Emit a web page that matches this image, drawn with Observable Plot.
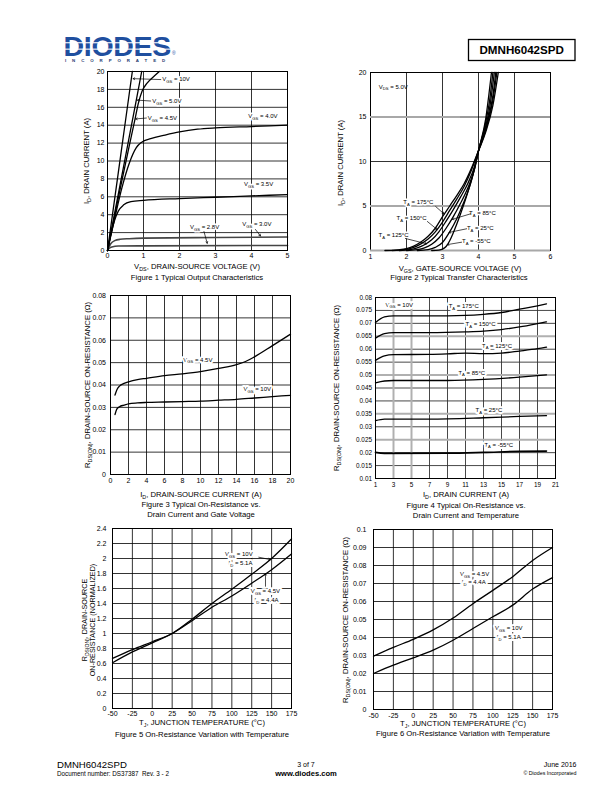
<!DOCTYPE html>
<html><head><meta charset="utf-8">
<script src="https://cdn.jsdelivr.net/npm/d3@7"></script>
<script src="https://cdn.jsdelivr.net/npm/@observablehq/plot@0.6"></script>
<style>
html,body{margin:0;padding:0;background:#fff;}
#page{position:relative;width:612px;height:792px;overflow:hidden;background:#fff;}
</style></head><body><div id="page"></div>
<script>
// ---------- Figure 1: Typical Output Characteristics ----------
const fig1_xTicks = [0,1,2,3,4,5];
const fig1_yTicks = [0,2,4,6,8,10,12,14,16,18,20];
const fig1_vgs10 = [[0,0],[0.2,5.8],[0.4,11.6],[0.6,17.4],[0.69,20]];
const fig1_vgs50 = [[0,0],[0.2,4.2],[0.4,8.4],[0.6,12.6],[0.8,16.8],[0.95,20]];
const fig1_vgs45 = [[0,0],[0.2,3.9],[0.4,7.8],[0.6,11.6],[0.76,14.6],[0.86,16.5],[0.96,17.8],[1.1,18.7],[1.3,19.5],[1.44,20]];
const fig1_vgs40 = [[0,0],[0.2,3.6],[0.4,7.0],[0.6,9.7],[0.8,11.5],[0.95,12.1],[1.2,12.5],[1.6,12.9],[2,13.25],[2.5,13.55],[3,13.7],[4,13.85],[5,14.0]];
const fig1_vgs35 = [[0,0],[0.1,1.9],[0.2,3.4],[0.3,4.4],[0.45,5.1],[0.65,5.45],[1,5.6],[2,5.8],[3,5.95],[4,6.1],[5,6.25]];
const fig1_vgs30 = [[0,0],[0.1,0.8],[0.2,1.1],[0.35,1.25],[0.6,1.32],[1,1.38],[3,1.45],[5,1.5]];
const fig1_vgs28 = [[0,0],[0.05,0.25],[0.12,0.4],[0.3,0.5],[1,0.52],[5,0.56]];
const fig1_labels = [
  {x:1.52,y:19.1,t:"V_{GS} = 10V"},{x:1.24,y:16.7,t:"V_{GS} = 5.0V"},{x:1.12,y:14.8,t:"V_{GS} = 4.5V"},
  {x:3.91,y:15.0,t:"V_{GS} = 4.0V"},{x:3.79,y:7.4,t:"V_{GS} = 3.5V"},{x:2.29,y:2.6,t:"V_{GS} = 2.8V"},{x:3.74,y:2.9,t:"V_{GS} = 3.0V"}];
const fig1_arrows = [
  {x1:1.48,y1:19.1,x2:0.71,y2:19.2},{x1:1.2,y1:16.7,x2:0.83,y2:16.8},{x1:1.08,y1:14.8,x2:0.78,y2:14.7},
  {x1:2.68,y1:2.12,x2:2.77,y2:0.8},{x1:4.11,y1:2.35,x2:4.25,y2:1.62}];

// ---------- Figure 2: Typical Transfer Characteristics ----------
const fig2_xTicks = [1,2,3,4,5,6];
const fig2_yTicks = [0,5,10,15,20];
const fig2_t175 = [[1.4,0],[1.8,0.08],[2.0,0.2],[2.2,0.5],[2.4,0.95],[2.6,1.6],[2.8,2.5],[3.0,3.8],[3.2,5.0],[3.4,6.2],[3.6,7.5],[3.8,9.2],[4.0,11.2],[4.2,13.3],[4.4,16.3],[4.55,20]];
const fig2_t150 = [[1.6,0],[2.0,0.12],[2.2,0.35],[2.4,0.75],[2.6,1.3],[2.8,2.1],[3.0,3.2],[3.2,4.5],[3.4,5.8],[3.6,7.2],[3.8,9.0],[4.0,11.2],[4.2,13.5],[4.4,16.9],[4.51,20]];
const fig2_t125 = [[1.8,0],[2.1,0.1],[2.3,0.3],[2.5,0.65],[2.7,1.2],[2.9,2.1],[3.1,3.3],[3.3,4.6],[3.5,6.0],[3.7,7.5],[3.9,9.6],[4.0,11.2],[4.2,13.7],[4.4,17.4],[4.48,20]];
const fig2_t85 = [[2.0,0],[2.3,0.1],[2.5,0.3],[2.7,0.7],[2.9,1.4],[3.1,2.5],[3.3,3.8],[3.5,5.3],[3.7,7.0],[3.9,9.3],[4.0,11.2],[4.2,14.0],[4.3,15.8],[4.44,20]];
const fig2_t25 = [[2.3,0],[2.6,0.1],[2.8,0.35],[3.0,0.9],[3.2,2.1],[3.4,3.6],[3.6,5.5],[3.8,7.8],[4.0,11.2],[4.2,14.4],[4.3,16.6],[4.4,20]];
const fig2_tm55 = [[2.7,0],[2.9,0.05],[3.0,0.15],[3.1,0.45],[3.2,1.1],[3.3,2.0],[3.5,4.1],[3.7,6.5],[3.9,9.4],[4.0,11.2],[4.2,14.8],[4.36,20]];
const fig2_labels = [
  {x:2.33,y:5.43,t:"T_{A} = 175°C"},{x:2.14,y:3.67,t:"T_{A} = 150°C"},{x:1.64,y:1.69,t:"T_{A} = 125°C"},
  {x:4.11,y:4.19,t:"T_{A} = 85°C"},{x:4.05,y:2.55,t:"T_{A} = 25°C"},{x:3.94,y:1.04,t:"T_{A} = -55°C"}];
const fig2_note = [{x:1.23,y:18.4,t:"V_{DS} = 5.0V"}];
const fig2_arrows = [
  {x1:2.81,y1:4.94,x2:3.04,y2:4.12},{x1:2.58,y1:3.26,x2:2.85,y2:2.36},{x1:1.97,y1:1.35,x2:2.56,y2:0.75},
  {x1:3.78,y1:4.12,x2:3.27,y2:3.5},{x1:3.67,y1:2.44,x2:3.18,y2:2.03},{x1:3.53,y1:0.93,x2:3.13,y2:0.66}];

// ---------- Figure 3: On-Resistance vs Drain Current and Gate Voltage ----------
const fig3_xTicks = [0,2,4,6,8,10,12,14,16,18,20];
const fig3_yTicks = [0,0.01,0.02,0.03,0.04,0.05,0.06,0.07,0.08];
const fig3_vgs45 = [[0.5,0.0355],[0.7,0.0378],[1,0.0395],[1.5,0.0407],[2,0.0414],[3,0.0424],[4,0.043],[6,0.0442],[8,0.045],[10,0.046],[12,0.0474],[14,0.0491],[15,0.0505],[16,0.0526],[18,0.0576],[20,0.0627]];
const fig3_vgs10 = [[0.5,0.0268],[0.7,0.0292],[1,0.0303],[1.5,0.031],[2,0.0316],[3,0.032],[4,0.0322],[6,0.0324],[8,0.0326],[10,0.0328],[12,0.0332],[14,0.0336],[16,0.0342],[18,0.0348],[20,0.0354]];
const fig3_labels = [{x:9.7,y:0.0513,t:"V_{GS} = 4.5V"},{x:16.3,y:0.0383,t:"V_{GS} = 10V"}];

// ---------- Figure 4: On-Resistance vs Drain Current and Temperature ----------
const fig4_xTicks = [1,3,5,7,9,11,13,15,17,19,21];
const fig4_yTicks = [0.01,0.015,0.02,0.025,0.03,0.035,0.04,0.045,0.05,0.055,0.06,0.065,0.07,0.075,0.08];
const fig4_t175 = [[1,0.0703],[2,0.0725],[3,0.0729],[7,0.0729],[11,0.0731],[13,0.0735],[15,0.0742],[17,0.0755],[19,0.0768],[20,0.0775]];
const fig4_t150 = [[1,0.0643],[2,0.066],[3,0.0664],[7,0.0664],[11,0.0667],[13,0.067],[15,0.0676],[17,0.0686],[19,0.0699],[20,0.0706]];
const fig4_t125 = [[1,0.0557],[2,0.0574],[3,0.0579],[7,0.058],[9,0.0582],[11,0.0585],[13,0.0583],[15,0.0585],[17,0.0593],[19,0.0602],[20,0.0608]];
const fig4_t85 = [[1,0.047],[2,0.0477],[3,0.0479],[9,0.0479],[13,0.0483],[17,0.0492],[20,0.0501]];
const fig4_t25 = [[1,0.0324],[2,0.033],[7,0.033],[13,0.0335],[17,0.034],[20,0.0343]];
const fig4_tm55 = [[1,0.0201],[2,0.0197],[9,0.0198],[13,0.0201],[17,0.0205],[20,0.0206]];
const fig4_labels = [
  {x:10.8,y:0.0766,t:"T_{A} = 175°C"},{x:12.67,y:0.0696,t:"T_{A} = 150°C"},{x:14.5,y:0.0614,t:"T_{A} = 125°C"},
  {x:11.7,y:0.0509,t:"T_{A} = 85°C"},{x:13.6,y:0.0363,t:"T_{A} = 25°C"},{x:14.7,y:0.0231,t:"T_{A} = -55°C"}];
const fig4_note = [{x:2.1,y:0.0772,t:"V_{GS} = 10V"}];
const fig4_grayY = [0.025,0.035,0.05,0.065];
const fig4_grayX = [3,5];

// ---------- Figure 5: Normalized On-Resistance vs Temperature ----------
const fig5_xTicks = [-50,-25,0,25,50,75,100,125,150,175];
const fig5_yTicks = [0,0.2,0.4,0.6,0.8,1,1.2,1.4,1.6,1.8,2,2.2,2.4];
const fig5_vgs10 = [[-50,0.61],[-25,0.755],[0,0.875],[25,1.0],[50,1.19],[75,1.4],[100,1.59],[125,1.79],[150,2.0],[175,2.26]];
const fig5_vgs45 = [[-50,0.667],[-25,0.785],[0,0.89],[25,1.0],[50,1.17],[75,1.35],[100,1.5],[125,1.67],[150,1.85],[175,2.06]];
const fig5_labels = [{x:108.8,y:2.06,t:"V_{GS} = 10V"},{x:110.9,y:1.94,t:"I_{D} = 5.1A"},{x:142.3,y:1.56,t:"V_{GS} = 4.5V"},{x:143.6,y:1.44,t:"I_{D} = 4.4A"}];
const fig5_arrows = [{x1:133.9,y1:2.017,x2:148.5,y2:1.985},{x1:142.3,y1:1.63,x2:142.3,y2:1.80}];

// ---------- Figure 6: On-Resistance vs Temperature ----------
const fig6_xTicks = [-50,-25,0,25,50,75,100,125,150,175];
const fig6_yTicks = [0,0.01,0.02,0.03,0.04,0.05,0.06,0.07,0.08,0.09,0.1];
const fig6_vgs45 = [[-50,0.0296],[-25,0.0345],[0,0.039],[25,0.0442],[50,0.0508],[75,0.0588],[100,0.0662],[125,0.0738],[150,0.0828],[175,0.09]];
const fig6_vgs10 = [[-50,0.02],[-25,0.0246],[0,0.0287],[25,0.033],[50,0.0385],[75,0.045],[100,0.0515],[125,0.058],[150,0.0669],[175,0.0733]];
const fig6_labels = [{x:77,y:0.0754,t:"V_{GS} = 4.5V"},{x:76,y:0.0706,t:"I_{D} = 4.4A"},{x:120,y:0.0452,t:"V_{GS} = 10V"},{x:120,y:0.0402,t:"I_{D} = 5.1A"}];

// ---------- rendering ----------
const FONT = '"Liberation Sans", Arial, Helvetica, sans-serif';
const page = document.getElementById("page");
const K = "#000";

function makeChart({fx, fy, fw, fh, xDomain, yDomain, xTicks, yTicks, xPad, yPad, tickSize, marks}) {
  const mL = 36, mR = 14, mT = 8, mB = 16;
  const svg = Plot.plot({
    width: fw + mL + mR, height: fh + mT + mB,
    marginLeft: mL, marginRight: mR, marginTop: mT, marginBottom: mB,
    x: {domain: xDomain, ticks: xTicks, tickSize: 0, tickPadding: xPad, tickFormat: d => String(d), label: null},
    y: {domain: yDomain, ticks: yTicks, tickSize: 0, tickPadding: yPad, tickFormat: d => String(d), label: null},
    style: {background: "transparent", fontFamily: FONT, fontSize: tickSize + "px", color: "#000", overflow: "visible"},
    marks
  });
  svg.style.position = "absolute";
  svg.style.left = (fx - mL) + "px";
  svg.style.top = (fy - mT) + "px";
  page.appendChild(svg);
  return svg;
}
const grid = (ticks, dim, opts = {}) => dim === "x"
  ? Plot.ruleX(ticks, {stroke: K, strokeWidth: 0.8, ...opts})
  : Plot.ruleY(ticks, {stroke: K, strokeWidth: 0.8, ...opts});
const curve = (data, opts = {}) => Plot.line(data, {stroke: K, strokeWidth: 1.3, curve: "monotone-x", ...opts});
const labels = (data, opts = {}) => Plot.text(data, {x: "x", y: "y", text: "t", fontSize: 6, fill: K, stroke: "#fff", strokeWidth: 3, ...opts});
const arrows = (data) => Plot.arrow(data, {x1: "x1", y1: "y1", x2: "x2", y2: "y2", stroke: K, strokeWidth: 0.7, headLength: 4});

// Figure 1
makeChart({fx:107, fy:71, fw:180, fh:179, xDomain:[0,5], yDomain:[0,20], xTicks:fig1_xTicks, yTicks:fig1_yTicks, xPad:3, yPad:3, tickSize:7,
  marks:[grid(fig1_xTicks,"x"), grid(fig1_yTicks,"y"),
    curve(fig1_vgs28,{stroke:"#444",strokeWidth:1.6}), curve(fig1_vgs30,{stroke:"#444",strokeWidth:1.6}),
    curve(fig1_vgs35), curve(fig1_vgs40), curve(fig1_vgs45), curve(fig1_vgs50), curve(fig1_vgs10),
    Plot.frame({stroke:K, strokeWidth:1}),
    labels(fig1_labels,{textAnchor:"start"}), arrows(fig1_arrows)]});

// Figure 2
const fig2_grayRules = [{y:0,a:1,b:6},{y:5,a:1,b:6},{y:15,a:1,b:3.5}];
const fig2_darkRules = [{y:10,a:1,b:6},{y:15,a:3.5,b:6},{y:20,a:1,b:6}];
makeChart({fx:370, fy:72, fw:180, fh:178, xDomain:[1,6], yDomain:[0,20], xTicks:fig2_xTicks, yTicks:fig2_yTicks, xPad:4, yPad:4, tickSize:7,
  marks:[grid(fig2_xTicks,"x"),
    Plot.ruleY(fig2_darkRules,{y:"y",x1:"a",x2:"b",stroke:K,strokeWidth:0.8}),
    Plot.frame({stroke:K, strokeWidth:1}),
    Plot.ruleY(fig2_grayRules,{y:"y",x1:"a",x2:"b",stroke:"#a8a8a8",strokeWidth:2.2}),
    curve(fig2_tm55), curve(fig2_t25), curve(fig2_t85), curve(fig2_t125), curve(fig2_t150), curve(fig2_t175),
    labels(fig2_note,{textAnchor:"start",stroke:null}),
    labels(fig2_labels), arrows(fig2_arrows)]});

// Figure 3
makeChart({fx:110, fy:295, fw:180, fh:179, xDomain:[0,20], yDomain:[0,0.08], xTicks:fig3_xTicks, yTicks:fig3_yTicks, xPad:3.5, yPad:4.5, tickSize:7,
  marks:[grid(fig3_xTicks,"x"), grid(fig3_yTicks,"y"),
    curve(fig3_vgs45), curve(fig3_vgs10),
    Plot.frame({stroke:K, strokeWidth:1}),
    labels(fig3_labels,{strokeWidth:4})]});

// Figure 4
makeChart({fx:375, fy:297, fw:180, fh:181, xDomain:[1,21], yDomain:[0.01,0.08], xTicks:fig4_xTicks, yTicks:fig4_yTicks, xPad:3.5, yPad:3.5, tickSize:6.4,
  marks:[
    grid(fig4_xTicks.filter(v => !fig4_grayX.includes(v)),"x",{stroke:"#333",strokeWidth:0.9}),
    grid(fig4_yTicks.filter(v => !fig4_grayY.includes(v)),"y",{stroke:"#333",strokeWidth:0.9}),
    grid(fig4_grayX,"x",{stroke:"#b0b0b0",strokeWidth:2}),
    grid(fig4_grayY,"y",{stroke:"#b0b0b0",strokeWidth:2}),
    Plot.frame({stroke:K, strokeWidth:1}),
    curve(fig4_t175), curve(fig4_t150), curve(fig4_t125), curve(fig4_t85), curve(fig4_t25), curve(fig4_tm55,{strokeWidth:1.6}),
    labels(fig4_labels,{strokeWidth:4}), labels(fig4_note,{textAnchor:"start",strokeWidth:4})]});

// Figure 5
makeChart({fx:112, fy:528, fw:179, fh:180, xDomain:[-50,175], yDomain:[0,2.4], xTicks:fig5_xTicks, yTicks:fig5_yTicks, xPad:3, yPad:6, tickSize:7,
  marks:[grid(fig5_xTicks,"x"), grid(fig5_yTicks,"y"),
    curve(fig5_vgs10), curve(fig5_vgs45),
    Plot.frame({stroke:K, strokeWidth:1}),
    labels(fig5_labels,{strokeWidth:4}), arrows(fig5_arrows)]});

// Figure 6
makeChart({fx:373, fy:529, fw:179, fh:180, xDomain:[-50,175], yDomain:[0,0.1], xTicks:fig6_xTicks, yTicks:fig6_yTicks, xPad:3.5, yPad:7, tickSize:7,
  marks:[grid(fig6_xTicks,"x"), grid(fig6_yTicks,"y"),
    curve(fig6_vgs45), curve(fig6_vgs10),
    Plot.frame({stroke:K, strokeWidth:1}),
    labels(fig6_labels,{strokeWidth:4})]});

// ---------- overlay: header, titles, captions, footer ----------
const ov = d3.select(page).append("svg")
  .attr("width", 612).attr("height", 792)
  .style("position", "absolute").style("left", "0px").style("top", "0px")
  .style("font-family", FONT).style("overflow", "visible");

function subify(el) {
  const s = el.textContent;
  if (!s.includes("_{")) return;
  const fs = parseFloat(getComputedStyle(el).fontSize) || 7;
  while (el.firstChild) el.removeChild(el.firstChild);
  let down = false;
  for (const p of s.split(/(_\{[^}]*\})/).filter(p => p)) {
    const t = document.createElementNS("http://www.w3.org/2000/svg", "tspan");
    if (p.startsWith("_{")) {
      t.textContent = p.slice(2, -1);
      t.setAttribute("font-size", (fs * 0.7) + "px");
      t.setAttribute("dy", (fs * 0.3) + "px");
      down = true;
    } else {
      t.textContent = p;
      if (down) { t.setAttribute("dy", (-fs * 0.3) + "px"); down = false; }
    }
    el.appendChild(t);
  }
}
function addText(x, y, str, {size = 7.7, anchor = "middle", weight = "normal", rotate = false, fill = "#000", spacing = null} = {}) {
  const t = ov.append("text").attr("x", x).attr("y", y)
    .attr("font-size", size).attr("text-anchor", anchor).attr("font-weight", weight)
    .attr("fill", fill).style("white-space", "pre").text(str);
  if (spacing != null) t.attr("letter-spacing", spacing);
  if (rotate) t.attr("transform", `rotate(-90 ${x} ${y})`);
  subify(t.node());
  return t;
}

// header logo
addText(63.5, 55.5, "DIODES", {size: 28.5, anchor: "start", weight: "bold", fill: "#1f4f9f", spacing: -0.3});
ov.append("rect").attr("x", 62).attr("y", 42.2).attr("width", 112).attr("height", 1.1).attr("fill", "#fff");
ov.append("rect").attr("x", 62).attr("y", 48.6).attr("width", 112).attr("height", 1.1).attr("fill", "#fff");
addText(172, 55, "®", {size: 5, anchor: "start", fill: "#1f4f9f"});
addText(65, 62.3, "INCORPORATED", {size: 4.4, anchor: "start", weight: "bold", fill: "#1f3a70", spacing: 5.9});
ov.append("rect").attr("x", 468.5).attr("y", 39.5).attr("width", 106.5).attr("height", 21)
  .attr("fill", "none").attr("stroke", "#000").attr("stroke-width", 1.3);
addText(521.7, 54.2, "DMNH6042SPD", {size: 11.6, weight: "bold"});

// axis titles and captions
addText(197, 268.5, "V_{DS}, DRAIN-SOURCE VOLTAGE (V)");
addText(89, 161, "I_{D}, DRAIN CURRENT (A)", {rotate: true});
addText(197, 279.5, "Figure 1 Typical Output Characteristics");

addText(460, 270.5, "V_{GS}, GATE-SOURCE VOLTAGE (V)");
addText(342.5, 163, "I_{D}, DRAIN CURRENT (A)", {rotate: true});
addText(459, 280, "Figure 2 Typical Transfer Characteristics");

addText(201, 497, "I_{D}, DRAIN-SOURCE CURRENT (A)");
addText(89.8, 385, "R_{DS(ON)}, DRAIN-SOURCE ON-RESISTANCE (Ω)", {rotate: true});
addText(201, 507, "Figure 3 Typical On-Resistance vs.");
addText(201, 516.5, "Drain Current and Gate Voltage");

addText(466, 496.5, "I_{D}, DRAIN CURRENT (A)");
addText(339, 388, "R_{DS(ON)}, DRAIN-SOURCE ON-RESISTANCE (Ω)", {rotate: true});
addText(466, 507.5, "Figure 4 Typical On-Resistance vs.");
addText(466, 517.5, "Drain Current and Temperature");

addText(202, 724.5, "T_{J}, JUNCTION TEMPERATURE (°C)");
addText(86.6, 620, "R_{DS(ON)}, DRAIN-SOURCE", {rotate: true, size: 7.2});
addText(94.6, 620, "ON-RESISTANCE (NORMALIZED)", {rotate: true, size: 7.2});
addText(202, 737, "Figure 5 On-Resistance Variation with Temperature");

addText(463, 725.5, "T_{J}, JUNCTION TEMPERATURE (°C)");
addText(348, 620, "R_{DS(ON)}, DRAIN-SOURCE ON-RESISTANCE (Ω)", {rotate: true});
addText(463, 735.5, "Figure 6 On-Resistance Variation with Temperature");

// footer
addText(57, 768, "DMNH6042SPD", {size: 9.6, anchor: "start"});
addText(57, 776.3, "Document number: DS37387  Rev. 3 - 2", {size: 6.3, anchor: "start"});
addText(306, 767, "3 of 7", {size: 7});
addText(306, 776.3, "www.diodes.com", {size: 7.6, weight: "bold"});
addText(576.5, 767, "June 2016", {size: 7, anchor: "end"});
addText(576.5, 775, "© Diodes Incorporated", {size: 5.3, anchor: "end"});

// subscripts inside the Plot annotation labels
document.querySelectorAll("#page > svg text").forEach(subify);
</script></body></html>
